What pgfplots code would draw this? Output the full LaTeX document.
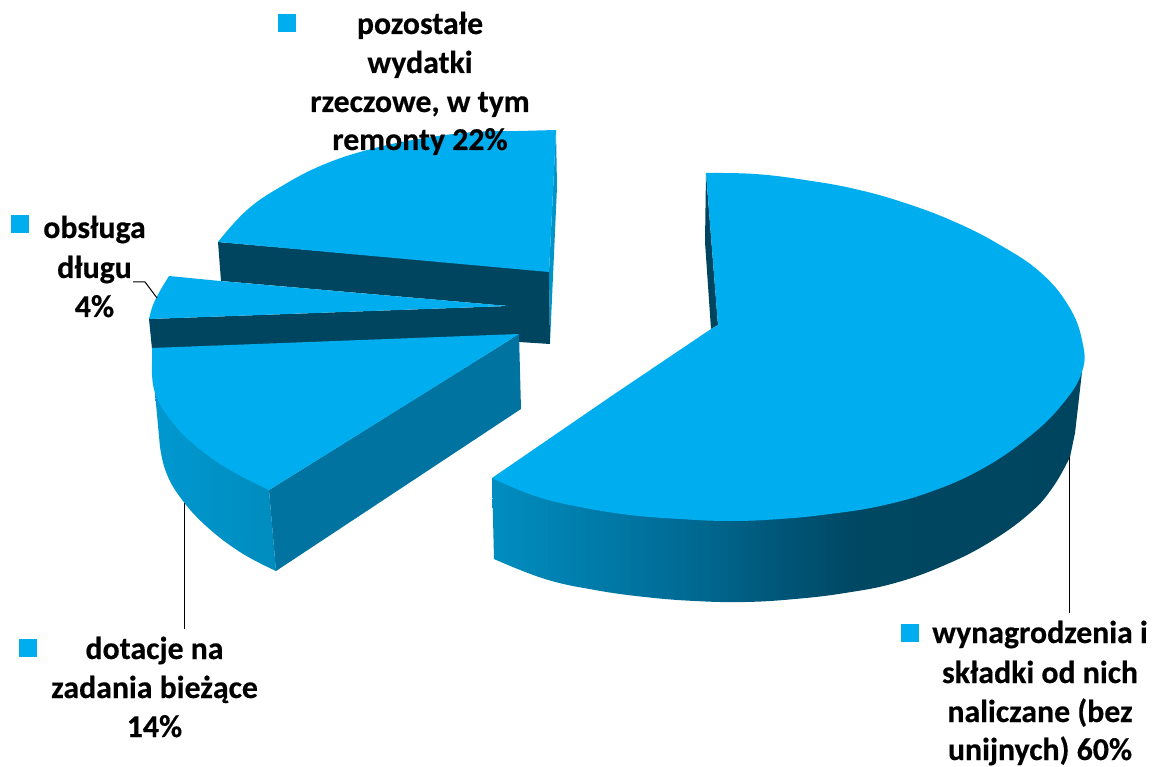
\documentclass[border=0pt]{standalone}
\usepackage{fontspec}
\setmainfont{Carlito}[BoldFeatures={FakeBold=0.4}]
\usepackage{pgfplots}
\pgfplotsset{compat=1.18}
\definecolor{pie}{RGB}{0,174,239}
\definecolor{piedark}{RGB}{0,69,95}
\definecolor{pieside}{RGB}{0,115,160}
\definecolor{piestrip}{RGB}{0,149,200}
% side bands, stops run over the 25bp-75bp bounding box of the path
\pgfdeclarehorizontalshading{bigband}{100bp}{
    rgb(0bp)=(0,0.557,0.753); rgb(25bp)=(0,0.557,0.753); rgb(34.15bp)=(0,0.478,0.659);
    rgb(42.6bp)=(0,0.408,0.565); rgb(49.4bp)=(0,0.337,0.471); rgb(56.2bp)=(0,0.278,0.384);
    rgb(75bp)=(0,0.271,0.373); rgb(100bp)=(0,0.271,0.373)}
\pgfdeclarehorizontalshading{smallband}{100bp}{
    rgb(0bp)=(0,0.596,0.816); rgb(25bp)=(0,0.596,0.816);
    rgb(75bp)=(0,0.549,0.745); rgb(100bp)=(0,0.549,0.745)}
\tikzset{lab/.style={anchor=base, font=\fontsize{31.8}{38}\selectfont\bfseries, text=black, inner sep=0pt}}
\begin{document}
\begin{tikzpicture}
\useasboundingbox (0,0) rectangle (1154pt,767pt);
\begin{axis}[
    at={(0,0)}, anchor=south west,
    width=1154pt, height=767pt, scale only axis,
    xmin=0, xmax=1154, ymin=0, ymax=767,
    y dir=reverse,
    hide axis,
    clip=false,
]

% pozostale wydatki 22%
\addplot[fill=piestrip, draw=none] coordinates {(556,130)(557,187)(550,343)(549,272)} --cycle;
\addplot[fill=piedark, draw=none] coordinates {(218,242)(221,281)(508,306)(500,330)(519,342)(550,344)(549,271)} --cycle;
\addplot[smooth, tension=0.7, fill=pie, draw=none] coordinates {(218,242)(247,210)(282,186)(325,164)(375,148)(425,138)(475,132)(518,131)(556,130)}
    -- (axis cs:549,272) -- cycle;

% obsluga dlugu 4%
\addplot[fill=piedark, draw=none] coordinates {(149,319)(152,349)(519,335)(530,320)(508,306)} --cycle;
\addplot[smooth, tension=0.7, fill=pie, draw=none] coordinates {(149,319)(153,305)(160,291)(169,276)}
    -- (axis cs:220,281) -- (axis cs:508,306) -- cycle;

% dotacje 14%
\addplot[smooth, tension=0.7, draw=none, shade, shading=smallband] coordinates {(160,447)(166,472)(180,497)(205,525)(240,552)(276,571)}
    -- (axis cs:269,490) -- (axis cs:230,440) -- (axis cs:155,393) -- cycle;
\addplot[fill=pieside, draw=none] coordinates {(269,490)(276,571)(521,409)(519,334)} --cycle;
\addplot[smooth, tension=0.7, fill=pie, draw=none] coordinates {(152,363)(155,393)(173,423)(197,447)(230,470)(269,490)}
    -- (axis cs:420,396) -- (axis cs:519,334) -- (axis cs:152,348) -- cycle;

% wynagrodzenia 60%
\addplot[fill=piedark, draw=none] coordinates {(706,173)(705,242)(711,329)(718,325)} --cycle;
\addplot[smooth, tension=0.7, draw=none, shade, shading=bigband] coordinates {(494,559)(545,579)(595,590)(645,597)(695,601)(745,602)(795,599)(845,593)(895,583)(945,565)(990,542)(1030,513)(1053,487)(1070,457)}
    -- (axis cs:1075,433) -- (axis cs:1082,372) -- (axis cs:1000,400) -- (axis cs:800,480) -- (axis cs:600,490) -- (axis cs:492,478) -- cycle;
\addplot[smooth, tension=0.7, fill=pie, draw=none] coordinates {(706,173)(755,174)(805,180)(855,189)(905,203)(955,222)(1000,245)(1040,272)(1068,305)(1082,340)(1082,372)(1060,407)(1025,440)(980,470)(930,492)(880,506)(830,514)(780,519)(730,521)(680,519)(630,515)(580,507)(535,496)(492,478)}
    -- (axis cs:613,395) -- (axis cs:711,329) -- (axis cs:718,325) -- cycle;

% leader lines
\addplot[black, line width=1pt] coordinates {(1069.5,457)(1069.5,613)};
\addplot[black, line width=1pt] coordinates {(184,503)(184,629)};
\addplot[black, line width=1pt] coordinates {(133,282)(145,282)(157,298)};

% legend squares
\addplot[fill=pie, draw=none] coordinates {(278,14)(296,14)(296,32)(278,32)} --cycle;
\addplot[fill=pie, draw=none] coordinates {(11,215)(29,215)(29,233)(11,233)} --cycle;
\addplot[fill=pie, draw=none] coordinates {(19,639)(37,639)(37,657)(19,657)} --cycle;
\addplot[fill=pie, draw=none] coordinates {(901,624)(919,624)(919,642)(901,642)} --cycle;

% labels
\node[lab] at (axis cs:420,34) {pozostałe};
\node[lab] at (axis cs:420,73) {wydatki};
\node[lab] at (axis cs:420,112) {rzeczowe, w tym};
\node[lab] at (axis cs:420,150) {remonty 22\%};
\node[lab] at (axis cs:94.5,238) {obsługa};
\node[lab] at (axis cs:94.5,278) {długu};
\node[lab] at (axis cs:94.5,317) {4\%};
\node[lab] at (axis cs:154.5,659) {dotacje na};
\node[lab] at (axis cs:154.5,698) {zadania bieżące};
\node[lab] at (axis cs:154.5,737) {14\%};
\node[lab] at (axis cs:1040,643) {wynagrodzenia i};
\node[lab] at (axis cs:1040,683) {składki od nich};
\node[lab] at (axis cs:1040,722) {naliczane (bez};
\node[lab] at (axis cs:1040,760) {unijnych) 60\%};
\end{axis}
\end{tikzpicture}
\end{document}
